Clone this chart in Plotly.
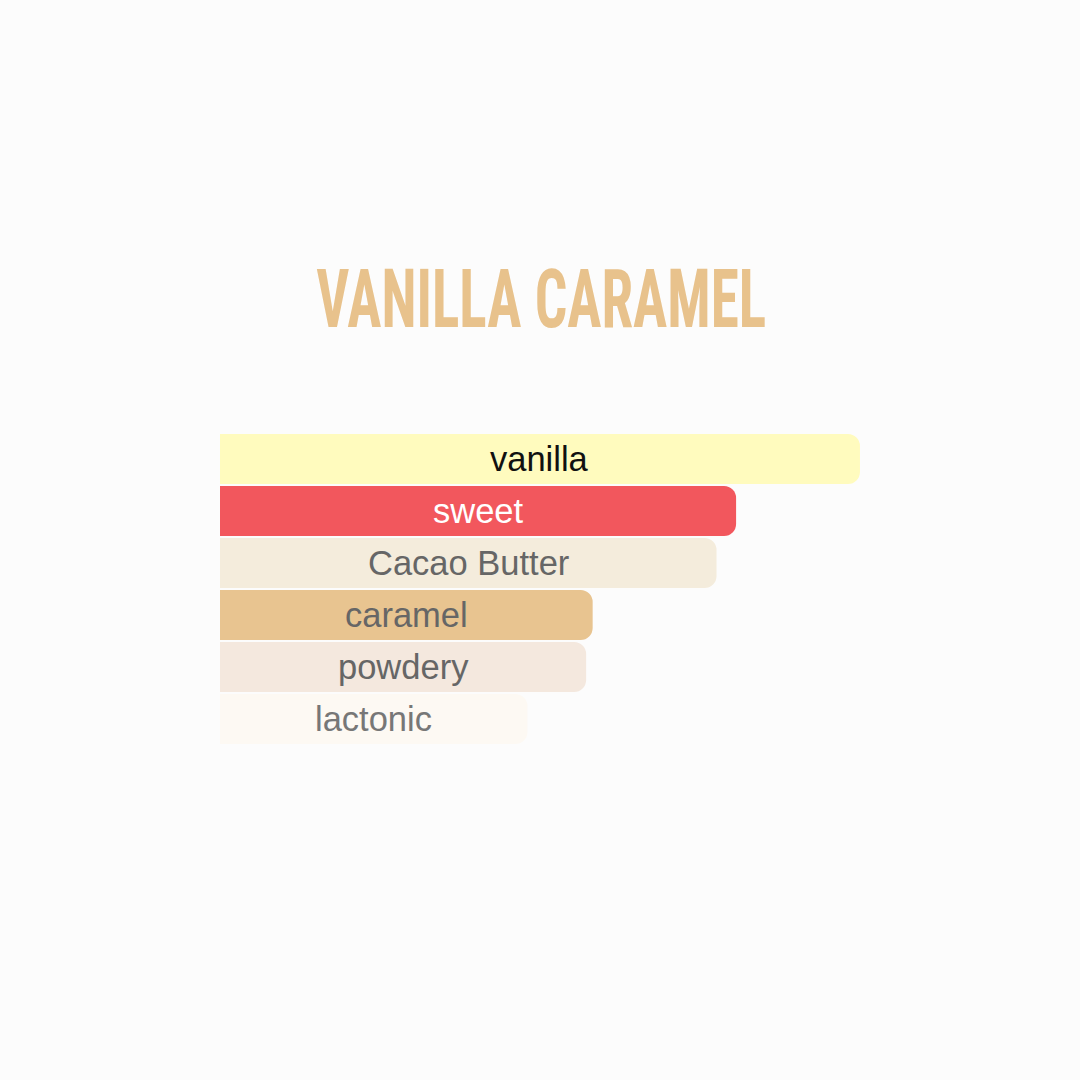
import plotly.graph_objects as go

# accords, top to bottom
accords = ["vanilla", "sweet", "Cacao Butter", "caramel", "powdery", "lactonic"]
strength = [100, 81, 78, 59, 58, 49]
bar_colors = ["#FFFBBE", "#F2575D", "#F4ECDC", "#E8C490", "#F4E8DE", "#FDF9F3"]
text_colors = ["#111111", "#FFFFFF", "#666666", "#666666", "#666666", "#777777"]

title_text = "VANILLA CARAMEL"

# left end sits just outside the range so the left corners stay square
x_lo, x_hi = 1.84, 102

fig = go.Figure()
fig.add_trace(
    go.Bar(
        x=strength,
        y=accords,
        orientation="h",
        marker=dict(color=bar_colors, line=dict(width=0), cornerradius=12),
        hoverinfo="skip",
    )
)

# labels centred on the visible part of each bar
for name, val, col in zip(accords, strength, text_colors):
    fig.add_annotation(
        x=(x_lo + val) / 2,
        y=name,
        text=name,
        showarrow=False,
        font=dict(family="Liberation Sans, Arial", size=34.5, color=col),
    )

fig.add_annotation(
    text=f"<b>{title_text}</b>",
    x=(541 - 220) / 653,
    y=1 + (433 - 299) / 312,
    xref="paper",
    yref="paper",
    yanchor="middle",
    showarrow=False,
    font=dict(
        family="Roboto Condensed, Open Sans Condensed, DejaVu Sans Condensed, DejaVu Sans",
        size=82,
        color="#E8C28C",
    ),
)

fig.update_layout(
    width=1080,
    height=1080,
    paper_bgcolor="#FCFCFC",
    plot_bgcolor="#FCFCFC",
    margin=dict(l=220, r=207, t=433, b=335),
    bargap=0.04,
    showlegend=False,
    xaxis=dict(range=[x_lo, x_hi], visible=False, fixedrange=True),
    yaxis=dict(autorange="reversed", visible=False, fixedrange=True),
)

# no page margin, and squeeze the title into a condensed look
post = """
document.body.style.margin = '0';
document.body.style.background = '#FCFCFC';
var anns = document.querySelectorAll('g.annotation text');
var t = anns[anns.length - 1];
if (t) {
  t.style.transformBox = 'fill-box';
  t.style.transformOrigin = 'center';
  t.style.transform = 'scaleX(0.698)';
}
"""

fig.write_html("out.html", post_script=post, config={"displayModeBar": False})
